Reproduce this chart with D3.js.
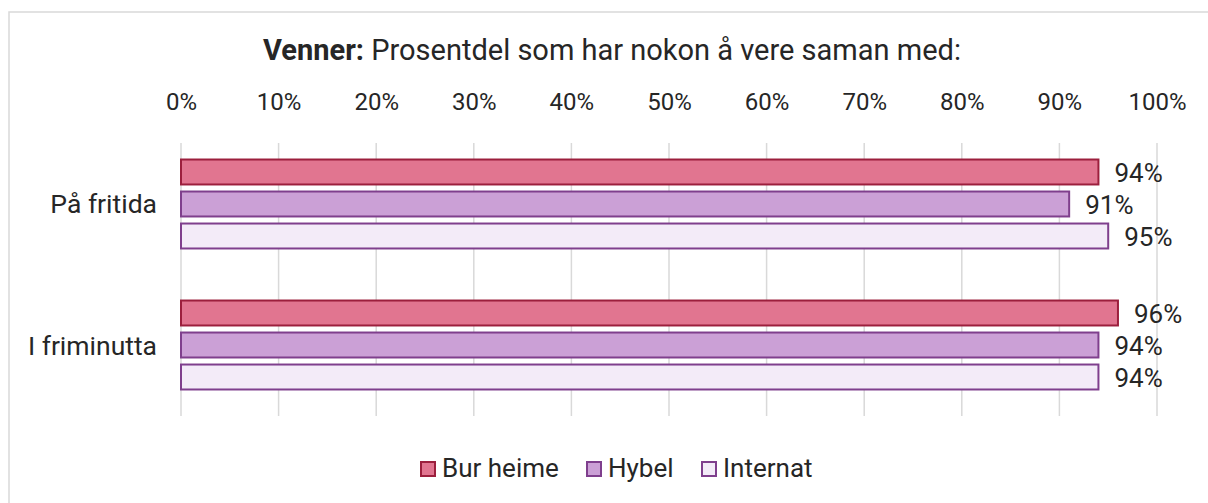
<html>
<head>
<style>
  body { margin: 0; background: #fff; font-family: Roboto, "Noto Sans", sans-serif; }
  svg text { fill: #262626; font-family: Roboto, sans-serif; }
</style>
</head>
<body>
<svg id="chart" width="1208" height="503"></svg>
<script src="https://cdn.jsdelivr.net/npm/d3@7"></script>
<script>
// data
let categories = ["På fritida", "I friminutta"]
let seriesNames = ["Bur heime", "Hybel", "Internat"]
let burHeime = [94, 96]
let hybel = [91, 94]
let internat = [95, 94]
let tickValues = [0, 10, 20, 30, 40, 50, 60, 70, 80, 90, 100]

let fills = ["#e17590", "#cba0d6", "#f3ebf8"]
let strokes = ["#9c1f3d", "#7f3f8d", "#7f3f8d"]

let svg = d3.select("#chart")

// outer frame
svg.append("rect")
    .attr("x", 9).attr("y", 12)
    .attr("width", 1220).attr("height", 520)
    .attr("fill", "none")
    .attr("stroke", "#d9d9d9")
    .attr("stroke-width", 1.5)

// title
let title = svg.append("text")
    .attr("x", 612).attr("y", 60)
    .attr("text-anchor", "middle")
    .style("font-size", "29px")
title.append("tspan").attr("font-weight", "bold").text("Venner:")
title.append("tspan").text(" Prosentdel som har nokon å vere saman med:")

let xScale = d3.scaleLinear().domain([0, 100]).range([181, 1157])

let yScale = d3.scaleBand()
    .domain(categories)
    .range([133, 416])
    .paddingInner(0.369)
    .paddingOuter(0.188)

// gridlines
svg.append("g").selectAll("line")
    .data(tickValues)
    .enter()
    .append("line")
    .attr("x1", d => xScale(d)).attr("x2", d => xScale(d))
    .attr("y1", 143).attr("y2", 416)
    .attr("stroke", "#d9d9d9")
    .attr("stroke-width", 1.5)

// top axis labels
let xAxis = d3.axisTop(xScale)
    .tickValues(tickValues)
    .tickFormat(d => d + "%")
    .tickSize(0)
    .tickPadding(0)
let axG = svg.append("g")
    .attr("transform", "translate(0,110)")
    .call(xAxis)
axG.select(".domain").remove()
axG.selectAll("text")
    .attr("dy", 0)
    .style("font-size", "24px")
    .style("font-family", "Roboto, sans-serif")
    .attr("fill", "#262626")

let inner = d3.scaleBand()
    .domain(seriesNames)
    .range([0, yScale.bandwidth()])
    .paddingInner(0.22)

let rows = []
categories.forEach((c, i) => {
    rows.push({ cat: c, s: 0, v: burHeime[i] })
    rows.push({ cat: c, s: 1, v: hybel[i] })
    rows.push({ cat: c, s: 2, v: internat[i] })
})

svg.append("g").selectAll("rect")
    .data(rows)
    .enter()
    .append("rect")
    .attr("x", xScale(0))
    .attr("y", d => yScale(d.cat) + inner(seriesNames[d.s]))
    .attr("width", d => xScale(d.v) - xScale(0))
    .attr("height", inner.bandwidth())
    .attr("fill", d => fills[d.s])
    .attr("stroke", d => strokes[d.s])
    .attr("stroke-width", 2)

svg.append("g").selectAll("text")
    .data(rows)
    .enter()
    .append("text")
    .attr("x", d => xScale(d.v) + 16)
    .attr("y", d => yScale(d.cat) + inner(seriesNames[d.s]) + inner.bandwidth() / 2 + 10)
    .style("font-size", "26px")
    .text(d => d.v + "%")

// category labels
svg.append("g").selectAll("text")
    .data(categories)
    .enter()
    .append("text")
    .attr("x", 157)
    .attr("y", d => yScale(d) + yScale.bandwidth() / 2 + 9.5)
    .attr("text-anchor", "end")
    .style("font-size", "26.5px")
    .text(d => d)

// legend
let legendX = [421, 587, 702]
let lg = svg.append("g").selectAll("g")
    .data(seriesNames)
    .enter()
    .append("g")
    .attr("transform", (d, i) => "translate(" + legendX[i] + ",462)")
lg.append("rect")
    .attr("width", 14).attr("height", 14)
    .attr("fill", (d, i) => fills[i])
    .attr("stroke", (d, i) => strokes[i])
    .attr("stroke-width", 2)
lg.append("text")
    .attr("x", 21).attr("y", 15)
    .style("font-size", "26px")
    .text(d => d)
</script>
</body>
</html>
